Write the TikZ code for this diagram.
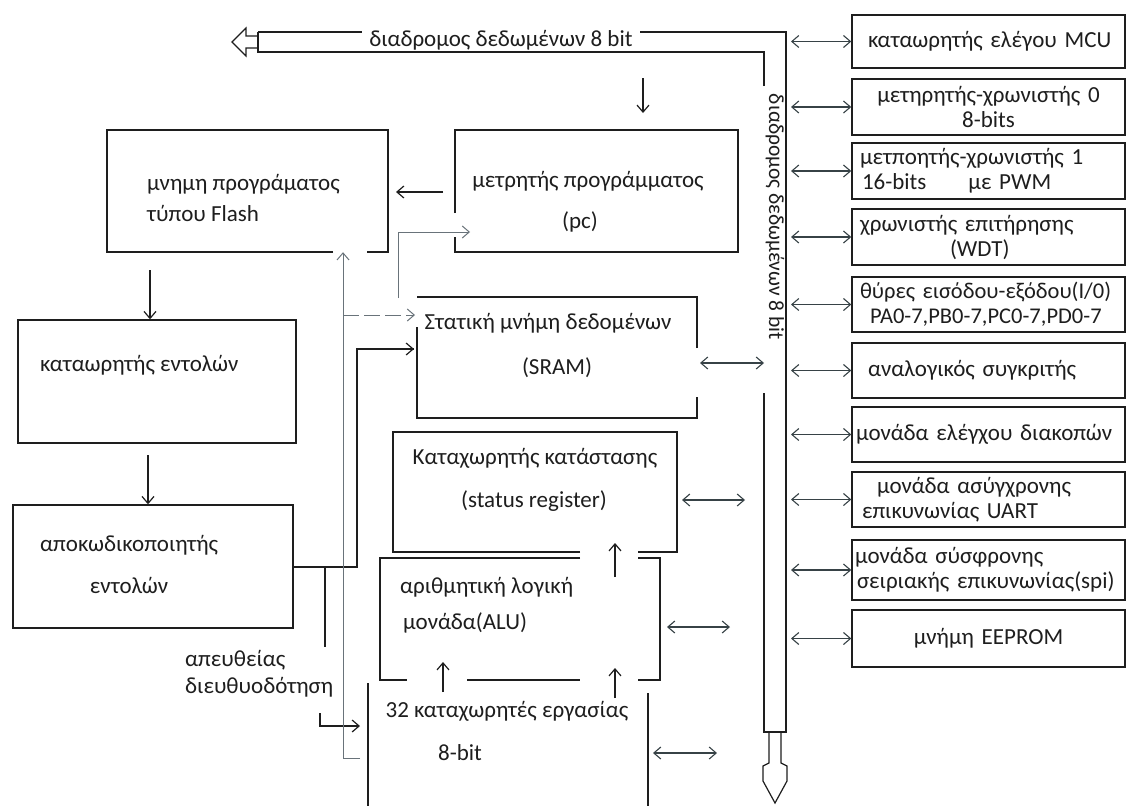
\documentclass[tikz,border=0pt]{standalone}
\usepackage{fontspec}
\setmainfont{Carlito}
\usetikzlibrary{arrows.meta,calc}
\definecolor{ink}{RGB}{30,30,30}
\definecolor{wire}{RGB}{55,66,70}
\definecolor{faint}{RGB}{105,115,122}
\begin{document}
\begin{tikzpicture}[x=1pt,y=-1pt,
  >={Straight Barb[length=7pt,width=12pt]},
  line/.style={draw=ink, line width=1.4pt},
  txt/.style={font=\fontsize{23}{27}\selectfont, text=ink, inner sep=0pt},
  perbox/.style={draw=ink, line width=1.4pt, minimum width=273pt, text width=267pt,
                 inner xsep=3pt, inner ysep=0pt, align=left,
                 font=\fontsize{23}{25}\selectfont, text=ink},
  plainbox/.style={draw=ink, line width=1.4pt},
  hole/.style={draw=none},
  bidir/.style={draw=wire, line width=1.1pt, <->},
  single/.style={draw=ink, line width=1.2pt, ->},
  feed/.style={draw=faint, line width=1pt},
  buslabel/.style={font=\fontsize{23}{25}\selectfont, text=ink, inner sep=0pt}
]
\path[use as bounding box, fill=white] (0,0) rectangle (1129,806);

% ---------------- 8-bit data bus ----------------
\draw[line] (258,32) -- (362,32);
\draw[line] (640,32) -- (786,32) -- (786,732) -- (764,732) -- (764,393);
\draw[line] (764,86) -- (764,52) -- (258,52) -- (258,32);
\draw[line, line width=1.2pt] (258,36) -- (246,36) -- (246,28) -- (232,42) -- (246,56) -- (246,48) -- (258,48);
\draw[line, line width=1.2pt] (769,732) -- (769,763) -- (763,766) -- (763,781) -- (775,803)
      -- (787,781) -- (787,766) -- (781,763) -- (781,732);
\node[buslabel] (hbus) at (501,40) {διαδρομος δεδωμένων 8 bit};
\node[buslabel, font=\fontsize{21.5}{24}\selectfont, rotate=-90] (vbus) at (775,217) {διαδρομος δεδωμένων 8 bit};
\coordinate (busR) at (786,0);
\coordinate (busL) at (764,0);

% ---------------- peripheral units ----------------
\node[perbox, minimum height=53pt] (mcu) at (988.5,41.5) {\hspace*{13pt}καταωρητής ελέγου MCU};
\node[perbox, minimum height=56pt, align=center] (tc0) at (988.5,107) {μετηρητής-χρωνιστής 0\\8-bits};
\node[perbox, minimum height=56pt] (tc1) at (988.5,171) {\hspace*{5pt}μετποητής-χρωνιστής 1\\\hspace*{7pt}16-bits\hspace{42pt}με PWM};
\node[perbox, minimum height=56pt] (wdt) at (988.5,237) {\hspace*{5pt}χρωνιστής επιτήρησης\\\hspace*{95pt}(WDT)};
\node[perbox, minimum height=55pt, font=\fontsize{22.5}{25}\selectfont] (ports) at (988.5,304.5) {\hspace*{5pt}θύρες εισόδου-εξόδου(I/0)\\\hspace*{15pt}PA0-7,PB0-7,PC0-7,PD0-7};
\node[perbox, minimum height=55pt] (comp) at (988.5,370.5) {\hspace*{13pt}αναλογικός συγκριτής};
\node[perbox, minimum height=55pt] (intr) at (988.5,434.5) {\hspace*{1pt}μονάδα ελέγχου διακοπών};
\node[perbox, minimum height=55pt] (uart) at (988.5,499.5) {\hspace*{22pt}μονάδα ασύγχρονης\\\hspace*{7pt}επικυνωνίας UART};
\node[perbox, minimum height=60pt] (spi) at (988.5,570) {μονάδα σύσφρονης\\\hspace*{2pt}σειριακής επικυνωνίας(spi)};
\node[perbox, minimum height=57pt, align=center] (eeprom) at (988.5,638.5) {μνήμη EEPROM};

\foreach \u in {mcu,tc0,tc1,wdt,ports,comp,intr,uart,spi,eeprom}
  \draw[bidir] ([xshift=5pt]\u.west -| busR) -- (\u.west);

% ---------------- CPU core blocks ----------------
\node[hole, minimum width=281pt, minimum height=122pt] (flash) at (247.5,191) {};
\draw[line] (333,252) -- (107,252) -- (107,130) -- (388,130) -- (388,252) -- (367,252);
\node[txt, anchor=west] (flashA) at (147,184) {μνημη προγράματος};
\node[txt, anchor=west] (flashB) at (147,213) {τύπου Flash};

\node[plainbox, minimum width=278pt, minimum height=123pt] (kat) at (157,381.5) {};
\node[txt, anchor=west] (katA) at (40,365) {καταωρητής εντολών};

\node[plainbox, minimum width=280pt, minimum height=123pt] (dec) at (153,566.5) {};
\node[txt, anchor=west] (decA) at (40,545) {αποκωδικοποιητής};
\node[txt] (decB) at (129,585) {εντολών};

\node[hole, minimum width=283pt, minimum height=122pt] (pc) at (596.5,191) {};
\draw[line] (455,213) -- (455,130) -- (738,130) -- (738,252) -- (455,252) -- (455,237);
\node[txt] (pcA) at (588,181) {μετρητής προγράμματος};
\node[txt] (pcB) at (580,222) {(pc)};

\node[hole, minimum width=280pt, minimum height=121pt] (sram) at (557,357.5) {};
\draw[line] (417,327) -- (417,418) -- (697,418) -- (697,397);
\draw[line] (697,348) -- (697,297) -- (417,297);
\node[txt] (sramA) at (548,323) {Στατική μνήμη δεδομένων};
\node[txt] (sramB) at (557,368) {(SRAM)};

\node[hole, minimum width=284pt, minimum height=120pt] (sreg) at (535,492) {};
\draw[line] (580,552) -- (393,552) -- (393,432) -- (677,432) -- (677,552) -- (638,552);
\node[txt] (sregA) at (535,458) {Καταχωρητής κατάστασης};
\node[txt] (sregB) at (534,501) {(status register)};

\node[hole, minimum width=280pt, minimum height=122pt] (alu) at (520,619) {};
\draw[line] (580,558) -- (380,558) -- (380,680) -- (407,680);
\draw[line] (467,680) -- (580,680);
\draw[line] (638,680) -- (660,680) -- (660,558) -- (638,558);
\node[txt, anchor=west] (aluA) at (400,587) {αριθμητική λογική};
\node[txt, anchor=west] (aluB) at (403,623) {μονάδα(ALU)};

\node[hole, minimum width=280pt, minimum height=122pt] (regs) at (508,745) {};
\draw[line] (368,683) -- (368,806);
\draw[line] (648,693) -- (648,806);
\node[txt] (regsA) at (507,711) {32 καταχωρητές εργασίας};
\node[txt] (regsB) at (460,753) {8-bit};

\node[txt, anchor=west, align=left] (direct) at (185,674) {απευθείας\\διευθυοδότηση};

% ---------------- connections ----------------
\coordinate (busdown) at (643,78);
\draw[single] (busdown) -- (busdown |- 0,113);
\coordinate (pcout) at (443,192);
\draw[single] (pcout) -- (396,192);
\coordinate (flout) at (150,270);
\draw[single] (flout) -- (flout |- kat.north);
\coordinate (katout) at (148,455);
\draw[single] (katout) -- (katout |- dec.north);

\coordinate (sramR) at (700,363);
\draw[bidir] (sramR) -- (sramR -| busL);
\coordinate (sregR) at (682,500);
\draw[bidir] (sregR) -- (745,500);
\coordinate (aluR) at (667,627);
\draw[bidir] (aluR) -- (730,627);
\coordinate (regsR) at (653,753);
\draw[bidir] (regsR) -- (717,753);

\draw[single] (615,577) -- (615,543);
\draw[single] (443,692) -- (443,662);
\draw[single] (615,698) -- (615,668);

% instruction decoder outputs
\coordinate (dj) at (357,567);
\coordinate (sramin) at (414,349);
\draw[line, line width=1.2pt] (dec.east |- dj) -- (dj) |- (sramin);
\draw[single] (sramin -| dj) ++(30,0) -- (sramin);
\coordinate (dbr) at (325,567);
\draw[line, line width=1.2pt] (dbr) -- (325,647);
\coordinate (dirA) at (320,713);
\draw[single] (dirA) |- (360,726);

% working registers back to program memory and SRAM
\coordinate (regback) at (360,758);
\coordinate (rise) at (343,758);
\draw[feed, ->] (regback) -- (rise) -- (rise |- flash.south);
\coordinate (tap) at (343,315);
\draw[feed, ->, dash pattern=on 16pt off 5pt] (tap) -- (415,315);
\coordinate (pcfeed) at (398,298);
\draw[feed, ->] (pcfeed) |- (470,232);
\end{tikzpicture}
\end{document}
